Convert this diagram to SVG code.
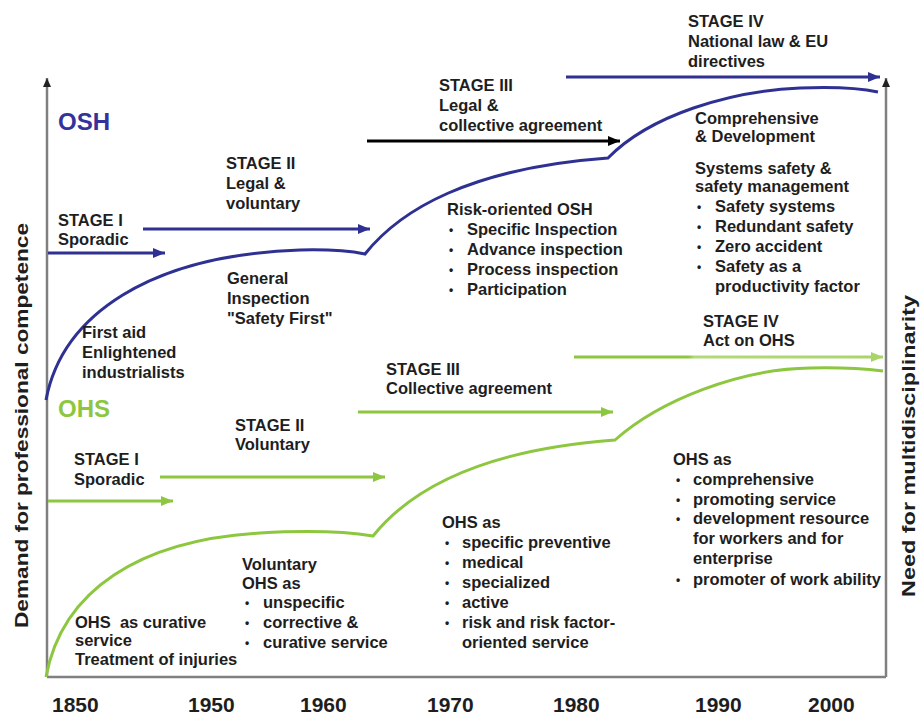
<svg xmlns="http://www.w3.org/2000/svg" width="920" height="717" viewBox="0 0 920 717">
<style>
  text { font-family: "Liberation Sans", Arial, sans-serif; fill: #1e1e1e; }
  .t { font-size: 16.5px; font-weight: bold; }
  .b { font-size: 12px; }
  .yr { font-size: 21px; font-weight: bold; }
  .ax { font-size: 19px; font-weight: bold; }
  .axis { stroke: #808080; stroke-width: 2.5; fill: none; }
  .blue { stroke: #2e3192; stroke-width: 3; fill: none; }
  .green { stroke: #8dc63f; stroke-width: 3; fill: none; }
  .black { stroke: #000; stroke-width: 3; fill: none; }
</style>
<defs>
  <marker id="ah-blue" viewBox="0 0 12 10" refX="12" refY="5" markerWidth="12" markerHeight="10" markerUnits="userSpaceOnUse" orient="auto">
    <path d="M0,0 L12,5 L0,10 Z" fill="#2e3192"/>
  </marker>
  <marker id="ah-green" viewBox="0 0 12 10" refX="12" refY="5" markerWidth="12" markerHeight="10" markerUnits="userSpaceOnUse" orient="auto">
    <path d="M0,0 L12,5 L0,10 Z" fill="#8dc63f"/>
  </marker>
  <marker id="ah-lgreen" viewBox="0 0 12 10" refX="12" refY="5" markerWidth="12" markerHeight="10" markerUnits="userSpaceOnUse" orient="auto">
    <path d="M0,0 L12,5 L0,10 Z" fill="#a9d46a"/>
  </marker>
  <marker id="ah-black" viewBox="0 0 12 10" refX="12" refY="5" markerWidth="12" markerHeight="10" markerUnits="userSpaceOnUse" orient="auto">
    <path d="M0,0 L12,5 L0,10 Z" fill="#000"/>
  </marker>
  <marker id="ah-axis" viewBox="0 0 8 10" refX="4" refY="0" markerWidth="8" markerHeight="10" markerUnits="userSpaceOnUse" orient="0">
    <path d="M0,9 L4,0 L8,9 Z" fill="#222"/>
  </marker>
  <linearGradient id="g4" gradientUnits="userSpaceOnUse" x1="574" y1="0" x2="883" y2="0">
    <stop offset="0" stop-color="#8dc63f"/>
    <stop offset="0.37" stop-color="#8dc63f"/>
    <stop offset="0.39" stop-color="#b3d97a"/>
    <stop offset="1" stop-color="#a9d46a"/>
  </linearGradient>
</defs>
<rect width="920" height="717" fill="#fff"/>

<g id="axes">
  <line class="axis" x1="47" y1="677" x2="886" y2="677"/>
  <line class="axis" x1="47" y1="677" x2="47" y2="78" marker-end="url(#ah-axis)"/>
  <line class="axis" x1="886" y1="677" x2="886" y2="78" marker-end="url(#ah-axis)"/>
</g>

<g id="curves">
  <path class="blue" d="M46,400 C62,315 150,255 300,250 Q340,249 365,254 C400,210 470,168 608,158 C650,115 730,91 800,88 Q850,86 878,92"/>
  <path class="green" d="M46,677 C62,590 140,540 260,533 Q330,529 373,536 C410,490 480,450 615,440 C660,400 740,369 810,368 Q850,367 883,371"/>
</g>

<g id="connectors">
  <line class="blue" x1="48" y1="253" x2="165" y2="253" marker-end="url(#ah-blue)"/>
  <line class="blue" x1="143" y1="229" x2="370" y2="229" marker-end="url(#ah-blue)"/>
  <line class="black" x1="367" y1="141" x2="620" y2="141" marker-end="url(#ah-black)"/>
  <line class="blue" x1="566" y1="77" x2="880" y2="77" marker-end="url(#ah-blue)"/>
  <line class="green" x1="48" y1="501" x2="173" y2="501" marker-end="url(#ah-green)"/>
  <line class="green" x1="160" y1="477" x2="385" y2="477" marker-end="url(#ah-green)"/>
  <line class="green" x1="358" y1="412" x2="613" y2="412" marker-end="url(#ah-green)"/>
  <line x1="574" y1="357" x2="883" y2="357" stroke="url(#g4)" stroke-width="3" marker-end="url(#ah-lgreen)"/>
</g>

<g id="osh-title"><text x="58" y="130" style="font-size:24px;font-weight:bold;fill:#33339a">OSH</text></g>
<g id="ohs-title"><text x="58" y="417" style="font-size:24px;font-weight:bold;fill:#8dc63f">OHS</text></g>

<g id="osh-stage1"><text class="t"><tspan x="58" y="226">STAGE I</tspan><tspan x="58" y="245">Sporadic</tspan></text></g>
<g id="osh-stage2"><text class="t"><tspan x="226" y="169">STAGE II</tspan><tspan x="226" y="189">Legal &amp;</tspan><tspan x="226" y="209">voluntary</tspan></text></g>
<g id="osh-stage3"><text class="t"><tspan x="439" y="91">STAGE III</tspan><tspan x="439" y="111">Legal &amp;</tspan><tspan x="439" y="131">collective agreement</tspan></text></g>
<g id="osh-stage4"><text class="t"><tspan x="688" y="27">STAGE IV</tspan><tspan x="688" y="47">National law &amp; EU</tspan><tspan x="688" y="67">directives</tspan></text></g>
<g id="osh-firstaid"><text class="t"><tspan x="82" y="338">First aid</tspan><tspan x="82" y="358">Enlightened</tspan><tspan x="82" y="378">industrialists</tspan></text></g>
<g id="osh-general"><text class="t"><tspan x="227" y="284">General</tspan><tspan x="227" y="304">Inspection</tspan><tspan x="227" y="324">"Safety First"</tspan></text></g>
<g id="osh-risk"><text class="t">
  <tspan x="447" y="215">Risk-oriented OSH</tspan>
  <tspan class="b" x="449" y="234">•</tspan><tspan x="467" y="235">Specific Inspection</tspan>
  <tspan class="b" x="449" y="254">•</tspan><tspan x="467" y="255">Advance inspection</tspan>
  <tspan class="b" x="449" y="274">•</tspan><tspan x="467" y="275">Process inspection</tspan>
  <tspan class="b" x="449" y="294">•</tspan><tspan x="467" y="295">Participation</tspan>
</text></g>
<g id="osh-comprehensive"><text class="t">
  <tspan x="695" y="124">Comprehensive</tspan>
  <tspan x="695" y="142">&amp; Development</tspan>
  <tspan x="695" y="174">Systems safety &amp;</tspan>
  <tspan x="695" y="192">safety management</tspan>
  <tspan class="b" x="697" y="211">•</tspan><tspan x="715" y="212">Safety systems</tspan>
  <tspan class="b" x="697" y="231">•</tspan><tspan x="715" y="232">Redundant safety</tspan>
  <tspan class="b" x="697" y="251">•</tspan><tspan x="715" y="252">Zero accident</tspan>
  <tspan class="b" x="697" y="271">•</tspan><tspan x="715" y="272">Safety as a</tspan>
  <tspan x="715" y="292">productivity factor</tspan>
</text></g>

<g id="ohs-stage1"><text class="t"><tspan x="74" y="465">STAGE I</tspan><tspan x="74" y="485">Sporadic</tspan></text></g>
<g id="ohs-stage2"><text class="t"><tspan x="235" y="431">STAGE II</tspan><tspan x="235" y="450">Voluntary</tspan></text></g>
<g id="ohs-stage3"><text class="t"><tspan x="386" y="375">STAGE III</tspan><tspan x="386" y="394">Collective agreement</tspan></text></g>
<g id="ohs-stage4"><text class="t"><tspan x="703" y="327">STAGE IV</tspan><tspan x="703" y="346">Act on OHS</tspan></text></g>
<g id="ohs-curative"><text class="t" style="white-space:pre"><tspan x="75" y="628">OHS  as curative</tspan><tspan x="75" y="646">service</tspan><tspan x="75" y="665">Treatment of injuries</tspan></text></g>
<g id="ohs-voluntary"><text class="t">
  <tspan x="242" y="570">Voluntary</tspan>
  <tspan x="242" y="589">OHS as</tspan>
  <tspan class="b" x="245" y="607">•</tspan><tspan x="263" y="608">unspecific</tspan>
  <tspan class="b" x="245" y="627">•</tspan><tspan x="263" y="628">corrective &amp;</tspan>
  <tspan class="b" x="245" y="647">•</tspan><tspan x="263" y="648">curative service</tspan>
</text></g>
<g id="ohs-specific"><text class="t">
  <tspan x="442" y="528">OHS as</tspan>
  <tspan class="b" x="445" y="547">•</tspan><tspan x="462" y="548">specific preventive</tspan>
  <tspan class="b" x="445" y="567">•</tspan><tspan x="462" y="568">medical</tspan>
  <tspan class="b" x="445" y="587">•</tspan><tspan x="462" y="588">specialized</tspan>
  <tspan class="b" x="445" y="607">•</tspan><tspan x="462" y="608">active</tspan>
  <tspan class="b" x="445" y="627">•</tspan><tspan x="462" y="628">risk and risk factor-</tspan>
  <tspan x="462" y="648">oriented service</tspan>
</text></g>
<g id="ohs-comprehensive"><text class="t">
  <tspan x="673" y="465">OHS as</tspan>
  <tspan class="b" x="676" y="484">•</tspan><tspan x="693" y="485">comprehensive</tspan>
  <tspan class="b" x="676" y="504">•</tspan><tspan x="693" y="505">promoting service</tspan>
  <tspan class="b" x="676" y="523">•</tspan><tspan x="693" y="524">development resource</tspan>
  <tspan x="693" y="544">for workers and for</tspan>
  <tspan x="693" y="564">enterprise</tspan>
  <tspan class="b" x="676" y="584">•</tspan><tspan x="693" y="585">promoter of work ability</tspan>
</text></g>

<g id="years">
  <text class="yr" x="52" y="712">1850</text>
  <text class="yr" x="188" y="712">1950</text>
  <text class="yr" x="300" y="712">1960</text>
  <text class="yr" x="427" y="712">1970</text>
  <text class="yr" x="553" y="712">1980</text>
  <text class="yr" x="695" y="712">1990</text>
  <text class="yr" x="808" y="712">2000</text>
</g>

<g id="axis-labels">
  <text class="ax" transform="translate(28,628) rotate(-90)" x="0" y="0" textLength="405" lengthAdjust="spacingAndGlyphs">Demand for professional competence</text>
  <text class="ax" transform="translate(915,597) rotate(-90)" x="0" y="0" textLength="302" lengthAdjust="spacingAndGlyphs">Need for multidisciplinarity</text>
</g>
</svg>
